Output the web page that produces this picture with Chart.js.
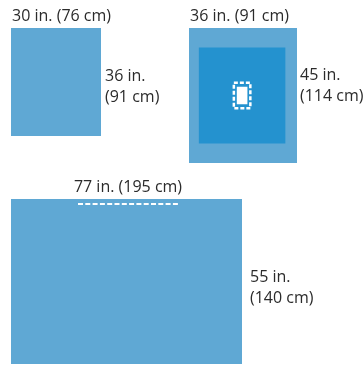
<!DOCTYPE html>
<html>
<head>
<meta charset="utf-8">
<script src="https://cdn.jsdelivr.net/npm/chart.js@4.4.1/dist/chart.umd.min.js"></script>
<style>
  html, body { margin: 0; padding: 0; background: #ffffff; }
  #wrap { width: 364px; height: 365px; }
</style>
</head>
<body>
<div id="wrap"><canvas id="c" width="364" height="365"></canvas></div>
<script>
// ---------------- DATA (inches) ----------------
const drapeNames      = ['Drape A', 'Drape B', 'Drape C'];
const drapeWidthIn    = [30, 36, 77];
const drapeLengthIn   = [36, 45, 55];
const widthLabels     = ['30 in. (76 cm)', '36 in. (91 cm)', '77 in. (195 cm)'];
const lengthLabelsIn  = ['36 in.', '45 in.', '55 in.'];
const lengthLabelsCm  = ['(91 cm)', '(114 cm)', '(140 cm)'];
// Drape B details
const panelSizeIn        = [29, 32];
const fenestrationSizeIn = [5.5, 8.5];
const windowSizeIn       = [3.7, 5.8];
// Drape C fold line (estimated)
const foldLineLengthIn   = 34;

// ---------------- LAYOUT / STYLE ----------------
const UNIT = 3;                       // px per inch in the picture
const W = 364, H = 365;
const LAYOUT = {
  origins: [[11 / UNIT, 28 / UNIT], [189 / UNIT, 28 / UNIT], [11 / UNIT, 199 / UNIT]],
  foldOffset: [67 / UNIT, 5 / UNIT],
  topLabel: [ {x: 12, y: 21, align: 'left'}, {x: 190, y: 21, align: 'left'}, {x: 128, y: 192, align: 'center'} ],
  sideLabel: [ {x: 105, y: 81}, {x: 300, y: 80}, {x: 250, y: 282} ],
  lineGap: 21
};
const COLORS = { drape: '#5fa8d4', panel: '#2492cf', white: '#ffffff', text: '#2b2b2b' };

// ---------------- BUILD DATASETS ----------------
function rectDataset(x0, y0, w, h, color, order) {
  return {
    data: [{x: x0, y: y0}, {x: x0 + w, y: y0}],
    fill: {value: y0 + h},
    backgroundColor: color,
    borderWidth: 0,
    pointRadius: 0,
    order: order
  };
}
function outlineDataset(x0, y0, w, h, color, dash, width, order) {
  return {
    data: [{x: x0, y: y0}, {x: x0 + w, y: y0}, {x: x0 + w, y: y0 + h}, {x: x0, y: y0 + h}, {x: x0, y: y0}],
    fill: false,
    borderColor: color,
    borderWidth: width,
    borderDash: dash,
    pointRadius: 0,
    order: order
  };
}

const datasets = [];
drapeNames.forEach((n, i) => {
  const [ox, oy] = LAYOUT.origins[i];
  datasets.push(Object.assign(rectDataset(ox, oy, drapeWidthIn[i], drapeLengthIn[i], COLORS.drape, 10), {label: n}));
});
// Drape B panel, fenestration
{
  const [ox, oy] = LAYOUT.origins[1];
  const cx = ox + drapeWidthIn[1] / 2 - 0.3, cy = oy + drapeLengthIn[1] / 2;
  datasets.push(rectDataset(cx - panelSizeIn[0] / 2, cy - panelSizeIn[1] / 2, panelSizeIn[0], panelSizeIn[1], COLORS.panel, 8));
  datasets.push(rectDataset(cx - windowSizeIn[0] / 2, cy - windowSizeIn[1] / 2, windowSizeIn[0], windowSizeIn[1], COLORS.white, 6));
  datasets.push(outlineDataset(cx - fenestrationSizeIn[0] / 2, cy - fenestrationSizeIn[1] / 2, fenestrationSizeIn[0], fenestrationSizeIn[1], COLORS.white, [4, 2], 2.5, 4));
}
// Drape C fold line
{
  const [ox, oy] = LAYOUT.origins[2];
  const x0 = ox + LAYOUT.foldOffset[0], y0 = oy + LAYOUT.foldOffset[1];
  datasets.push({
    data: [{x: x0, y: y0}, {x: x0 + foldLineLengthIn, y: y0}],
    fill: false, borderColor: COLORS.white, borderWidth: 2, borderDash: [5, 2.3], pointRadius: 0, order: 2
  });
}

// ---------------- LABEL PLUGIN ----------------
const labelPlugin = {
  id: 'dimLabels',
  afterDatasetsDraw(chart) {
    const ctx = chart.ctx, xs = chart.scales.x, ys = chart.scales.y;
    ctx.save();
    ctx.fillStyle = COLORS.text;
    ctx.font = '16px "Open Sans"';
    ctx.textBaseline = 'alphabetic';
    widthLabels.forEach((t, i) => {
      const p = LAYOUT.topLabel[i];
      ctx.textAlign = p.align;
      ctx.fillText(t, xs.getPixelForValue(p.x / UNIT), ys.getPixelForValue(p.y / UNIT));
    });
    ctx.textAlign = 'left';
    lengthLabelsIn.forEach((t, i) => {
      const p = LAYOUT.sideLabel[i];
      ctx.fillText(t, xs.getPixelForValue(p.x / UNIT), ys.getPixelForValue(p.y / UNIT));
      ctx.fillText(lengthLabelsCm[i], xs.getPixelForValue(p.x / UNIT), ys.getPixelForValue((p.y + LAYOUT.lineGap) / UNIT));
    });
    ctx.restore();
  }
};

new Chart(document.getElementById('c'), {
  type: 'line',
  data: { datasets },
  options: {
    responsive: false,
    animation: false,
    devicePixelRatio: 1,
    layout: { padding: 0 },
    elements: { line: { tension: 0 } },
    plugins: { legend: { display: false }, tooltip: { enabled: false }, filler: { drawTime: 'beforeDatasetDraw' } },
    scales: {
      x: { type: 'linear', min: 0, max: W / UNIT, display: false },
      y: { type: 'linear', min: 0, max: H / UNIT, reverse: true, display: false }
    }
  },
  plugins: [labelPlugin]
});
</script>
</body>
</html>
